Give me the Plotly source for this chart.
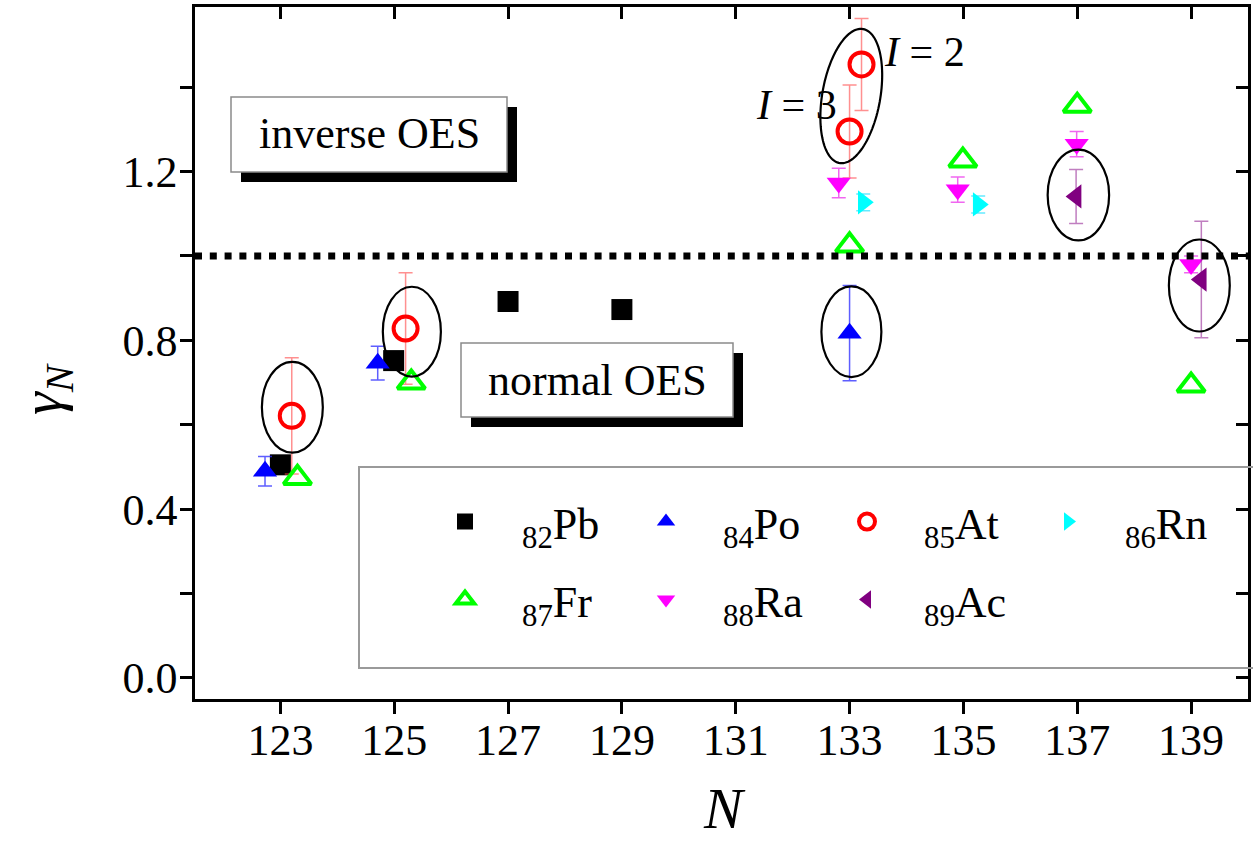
import numpy as np
import plotly.graph_objects as go

FONT = "Liberation Serif, Times New Roman, serif"

# ---- data: plotted neutron number N and odd-even staggering ratio gamma_N ----
pb_n = [123.0, 124.99, 127.0, 129.0]
pb_g = [0.505, 0.752, 0.892, 0.873]

po_n = [122.73, 124.71, 133.0]
po_g = [0.490, 0.746, 0.817]
po_err = [0.035, 0.040, 0.113]

at_n = [123.2, 125.2, 133.0, 133.21]
at_g = [0.621, 0.828, 1.295, 1.454]
at_err = [0.138, 0.132, 0.110, 0.109]

rn_n = [133.24, 135.26]
rn_g = [1.127, 1.122]
rn_err = [0.020, 0.020]

fr_n = [123.3, 125.3, 133.0, 134.99, 137.0, 139.0]
fr_g = [0.474, 0.700, 1.025, 1.226, 1.356, 0.693]

ra_n = [132.81, 134.90, 136.99, 139.0]
ra_g = [1.173, 1.157, 1.265, 0.980]
ra_err = [0.035, 0.030, 0.030, 0.020]

ac_n = [136.98, 139.18]
ac_g = [1.141, 0.944]
ac_err = [0.064, 0.138]

# axis ticks
x_tickvals = [123, 125, 127, 129, 131, 133, 135, 137, 139]
y_tickvals = [0.0, 0.4, 0.8, 1.2]
y_ticktext = ["0.0", "0.4", "0.8", "1.2"]
y_minor_step = 0.2

# rings drawn around highlighted points (N range, gamma range)
ring_n_lo = [122.675, 124.80, 132.505, 136.48, 138.61]
ring_n_hi = [123.746, 125.82, 133.559, 137.56, 139.68]
ring_g_lo = [0.534, 0.714, 0.713, 1.037, 0.821]
ring_g_hi = [0.749, 0.927, 0.928, 1.252, 1.039]

# tilted ring around the two At (N=133) points
tilt_center = (133.03, 1.379)

# ---- layout geometry ----
W, H = 1253, 843
ML, MR, MT, MB = 195, 5, 7, 144
XR = [121.5, 140.0]
YR = [-0.05, 1.59]
PW, PH = W - ML - MR, H - MT - MB
PX_PER_N = PW / (XR[1] - XR[0])
PX_PER_G = PH / (YR[1] - YR[0])


def xp(px):
    return (px - ML) / PW


def yp(py):
    return (H - MB - py) / PH


fig = go.Figure()


def add_series(name, xs, ys, symbol, color, size, legend, err=None,
               err_color=None, open_line=None):
    marker = dict(symbol=symbol, size=size, color=color)
    if open_line:
        marker["line"] = dict(width=open_line, color=color)
    else:
        marker["line"] = dict(width=0)
    tr = dict(x=xs, y=ys, mode="markers", name=name, marker=marker,
              legend=legend, cliponaxis=False)
    if err is not None:
        tr["error_y"] = dict(type="data", array=err, visible=True,
                             color=err_color, thickness=1.5, width=7)
    fig.add_trace(go.Scatter(**tr))


add_series("<sub>82</sub>Pb", pb_n, pb_g, "square", "black", 21, "legend")
add_series("<sub>84</sub>Po", po_n, po_g, "triangle-up", "#0000ff", 21, "legend",
           po_err, "rgba(40,40,255,0.75)")
add_series("<sub>85</sub>At", at_n, at_g, "circle-open", "#ff0000", 24, "legend",
           at_err, "rgba(255,70,70,0.6)", open_line=4)
add_series("<sub>86</sub>Rn", rn_n, rn_g, "triangle-right", "#00ffff", 21, "legend",
           rn_err, "rgba(0,220,255,0.6)")
add_series("<sub>87</sub>Fr", fr_n, fr_g, "triangle-up-open", "#00ff00", 24, "legend2",
           None, None, open_line=4)
add_series("<sub>88</sub>Ra", ra_n, ra_g, "triangle-down", "#ff00ff", 21, "legend2",
           ra_err, "rgba(230,0,230,0.6)")
add_series("<sub>89</sub>Ac", ac_n, ac_g, "triangle-left", "#800080", 21, "legend2",
           ac_err, "rgba(150,40,150,0.6)")

# empty trace so the mirrored top/right frame axes are drawn
fig.add_trace(go.Scatter(x=[], y=[], xaxis="x2", yaxis="y2", showlegend=False,
                         hoverinfo="skip"))

shapes = []

# reference line gamma_N = 1
shapes.append(dict(type="line", xref="paper", yref="y", x0=0, x1=1, y0=1.0, y1=1.0,
                   line=dict(color="black", width=7, dash="7px,7.8px")))

# rings
for a, b, c, d in zip(ring_n_lo, ring_n_hi, ring_g_lo, ring_g_hi):
    shapes.append(dict(type="circle", xref="x", yref="y", x0=a, x1=b, y0=c, y1=d,
                       line=dict(color="black", width=2.2)))

# tilted ring (semi-axes in screen pixels, leaning right at the top)
t = np.linspace(0, 2 * np.pi, 120)
a_px, b_px, ang = 68.0, 29.0, np.deg2rad(10.0)
ux, uy = np.sin(ang), -np.cos(ang)
vx, vy = np.cos(ang), np.sin(ang)
dx = a_px * np.cos(t) * ux + b_px * np.sin(t) * vx
dy = a_px * np.cos(t) * uy + b_px * np.sin(t) * vy
ex = tilt_center[0] + dx / PX_PER_N
ey = tilt_center[1] - dy / PX_PER_G
path = "M " + " L ".join(f"{x:.4f},{y:.4f}" for x, y in zip(ex, ey)) + " Z"
shapes.append(dict(type="path", xref="x", yref="y", path=path,
                   line=dict(color="black", width=2.2)))


def label_box(x0, y0, x1, y1, off=10):
    shapes.append(dict(type="rect", xref="paper", yref="paper",
                       x0=xp(x0 + off), x1=xp(x1 + off), y0=yp(y1 + off), y1=yp(y0 + off),
                       fillcolor="black", line=dict(width=0)))
    shapes.append(dict(type="rect", xref="paper", yref="paper",
                       x0=xp(x0), x1=xp(x1), y0=yp(y1), y1=yp(y0),
                       fillcolor="white", line=dict(color="#8a8a8a", width=1.5)))


label_box(231, 97, 507, 172)
label_box(461, 343, 733, 417)

# legend frame
shapes.append(dict(type="rect", xref="paper", yref="paper",
                   x0=xp(359), x1=xp(1260), y0=yp(668), y1=yp(467),
                   line=dict(color="#9a9a9a", width=2)))


def note(text, x, y, size, angle=0):
    return dict(text=text, xref="paper", yref="paper", x=x, y=y, showarrow=False,
                xanchor="center", yanchor="middle", textangle=angle,
                font=dict(family=FONT, size=size, color="black"))


annotations = [
    note("inverse OES", xp(369), yp(134), 44),
    note("normal OES", xp(597), yp(380), 44),
    note("<i>I</i> = 2", xp(924), yp(52), 42),
    note("<i>I</i> = 3", xp(796), yp(105), 42),
    note("<i>N</i>", xp(724), yp(808), 58),
    note("<i>γ</i><sub><i>N</i></sub>", xp(45), yp(389), 58, angle=-90),
]

tick_style = dict(ticklen=12, tickwidth=2.5, tickcolor="black")

axis_common = dict(showline=True, linecolor="black", linewidth=2.5,
                   ticks="outside", showgrid=False, zeroline=False,
                   tickfont=dict(family=FONT, size=44, color="black"), **tick_style)

frame_common = dict(showticklabels=False, showline=True, linecolor="black",
                    linewidth=2.5, ticks="inside", showgrid=False, zeroline=False,
                    **tick_style)

legend_common = dict(orientation="h", xanchor="left", yanchor="middle",
                     bgcolor="rgba(0,0,0,0)", borderwidth=0,
                     font=dict(family=FONT, size=44, color="black"),
                     entrywidth=82, itemwidth=104)

fig.update_layout(
    width=W, height=H, autosize=False,
    margin=dict(l=ML, r=MR, t=MT, b=MB, autoexpand=False),
    paper_bgcolor="white", plot_bgcolor="white",
    xaxis=dict(range=XR, tickvals=x_tickvals, ticklabelstandoff=-12, **axis_common),
    yaxis=dict(range=YR, tickvals=y_tickvals, ticktext=y_ticktext,
               ticklabelstandoff=-6,
               minor=dict(tick0=0, dtick=y_minor_step, ticks="outside", showgrid=False,
                          **tick_style),
               **axis_common),
    xaxis2=dict(range=XR, overlaying="x", anchor="y", side="top",
                tickvals=x_tickvals, **frame_common),
    yaxis2=dict(range=YR, overlaying="y", anchor="x", side="right",
                tick0=0, dtick=y_minor_step, **frame_common),
    legend=dict(x=xp(408), y=yp(522), **legend_common),
    legend2=dict(x=xp(408), y=yp(600), **legend_common),
    shapes=shapes,
    annotations=annotations,
    showlegend=True,
)

fig.write_html("out.html")
